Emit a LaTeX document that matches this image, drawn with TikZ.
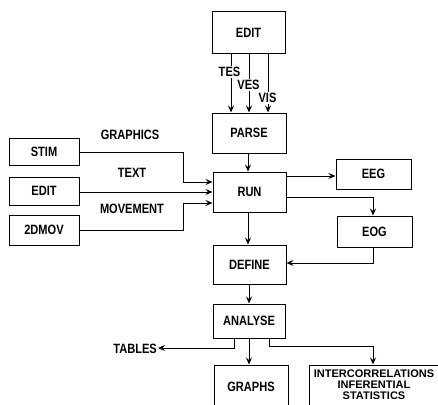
\documentclass[tikz,border=0pt]{standalone}
\usepackage{fontspec}
\setmainfont{Liberation Sans}[FakeStretch=0.82]
\newfontfamily\widefont{Liberation Sans}
\usetikzlibrary{arrows.meta}
\begin{document}
\begin{tikzpicture}[x=1pt,y=-1pt,
  txt/.style={font=\fontsize{13.5}{14}\selectfont\bfseries},
  box/.style={draw,line width=1pt,rectangle,inner sep=0pt,txt},
  lbl/.style={inner sep=1pt,txt},
  gap/.style={lbl,fill=white},
  conn/.style={line width=1pt,-{Stealth[length=7pt,width=6pt,inset=2.5pt]}}]
\useasboundingbox (0,0) rectangle (438,404);
\begin{scope}
\clip (0,0) rectangle (438,404);
% main column
\node[box,minimum width=73pt,minimum height=41pt] (edit) at (248.5,32.5) {EDIT};
\node[box,minimum width=74pt,minimum height=40pt] (parse) at (249,133) {PARSE};
\node[box,minimum width=73pt,minimum height=40pt] (run) at (249.5,192) {RUN};
\node[box,minimum width=73pt,minimum height=39pt] (define) at (249.5,264.5) {DEFINE};
\node[box,minimum width=72pt,minimum height=34pt] (analyse) at (249,321) {ANALYSE};
\node[box,minimum width=74pt,minimum height=44pt] (graphs) at (251,387) {GRAPHS};
\node[box,minimum width=132pt,minimum height=44pt] (inter) at (375,387) {};
\node[align=center,inner sep=0pt,
      font=\widefont\fontsize{11}{11}\selectfont\bfseries] (intertext) at (374,384.5)
      {INTERCORRELATIONS\\INFERENTIAL\\STATISTICS};
% left sources
\node[box,minimum width=70pt,minimum height=27pt] (stim) at (44,151.5) {STIM};
\node[box,minimum width=70pt,minimum height=28pt] (edit2) at (44,191) {EDIT};
\node[box,minimum width=70pt,minimum height=30pt] (dmov) at (44,230) {2DMOV};
% right
\node[box,minimum width=75pt,minimum height=30pt] (eeg) at (373.5,174) {EEG};
\node[box,minimum width=75pt,minimum height=31pt] (eog) at (374.5,231.5) {EOG};
% coordinates
\coordinate (tx1) at (231,0);
\coordinate (tx2) at (249,0);
\coordinate (tx3) at (268,0);
% EDIT -> PARSE
\draw[conn] (edit.south -| tx1) -- (parse.north -| tx1);
\draw[conn] (edit.south -| tx2) -- (parse.north -| tx2);
\draw[conn] (edit.south -| tx3) -- (parse.north -| tx3);
\node[gap] (tes) at (229.5,72) {TES};
\node[gap] (ves) at (248.5,85) {VES};
\node[gap] (vis) at (267.5,98) {VIS};
% main chain
\coordinate (mx) at (248,0);
\draw[conn] (parse.south -| mx) -- (run.north -| mx);
\draw[conn] (run.south -| mx) -- (define.north -| mx);
\draw[conn] (define.south -| tx2) -- (analyse.north -| tx2);
\draw[conn] (analyse.south -| tx2) -- (graphs.north -| tx2);
% inputs to RUN
\draw[conn] (stim.east |- 0,152) -- (183,152) |- (run.west |- 0,182);
\draw[conn] (edit2.east |- 0,192) -- (run.west |- 0,192);
\draw[conn] (dmov.east |- 0,230) -- (183,230) |- (run.west |- 0,203);
\node[lbl] (graphics) at (130,135) {GRAPHICS};
\node[lbl] (text) at (132,173) {TEXT};
\node[lbl] (movement) at (132,209) {MOVEMENT};
% RUN outputs
\coordinate (ex) at (373,0);
\draw[conn] (run.east |- 0,176) -- (eeg.west |- 0,176);
\draw[conn] (run.east |- 0,197) -| (eog.north -| ex);
\draw[conn] (eog.south -| ex) |- (define.east |- 0,263);
% ANALYSE outputs
\node[lbl,anchor=east] (tables) at (158,349) {TABLES};
\draw[conn] (analyse.south -| 234,0) |- (tables.east |- 0,348);
\draw[conn] (analyse.south -| 269,0) |- (373,346) -- (inter.north -| ex);
\end{scope}
\end{tikzpicture}
\end{document}
